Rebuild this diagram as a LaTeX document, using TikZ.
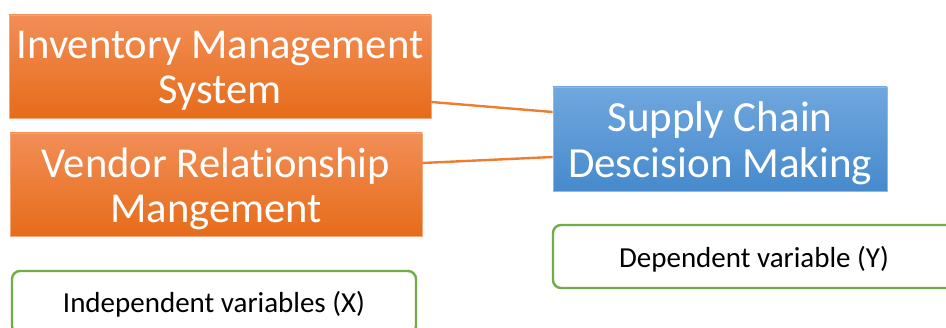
\documentclass[tikz,border=0pt]{standalone}
\usepackage{fontspec}
\setmainfont{Carlito}[Ligatures=NoCommon]
\definecolor{orangetop}{RGB}{242,142,86}
\definecolor{orangebot}{RGB}{230,108,26}
\definecolor{bluetop}{RGB}{112,167,222}
\definecolor{bluebot}{RGB}{70,138,205}
\definecolor{linkorange}{RGB}{237,125,49}
\definecolor{tagreen}{RGB}{112,173,71}
\tikzset{
  factor/.style={draw=orangetop!80!white, line width=0.8pt, top color=orangetop, bottom color=orangebot, inner sep=0pt},
  outcome/.style={draw=bluetop!80!white, line width=0.8pt, top color=bluetop, bottom color=bluebot, inner sep=0pt},
  bigtext/.style={text=white, font=\fontsize{42.6}{45}\selectfont, align=center},
  tag/.style={draw=tagreen, line width=2.4pt, rounded corners=8pt, fill=white, inner sep=0pt},
  tagtext/.style={font=\fontsize{29}{32}\selectfont},
  link/.style={linkorange, line width=2.4pt}
}
\begin{document}
\begin{tikzpicture}[x=1pt, y=1pt]
\clip (0,0) rectangle (946,327);

% the two factors
\node[factor, minimum width=422, minimum height=103] (inv) at (220,260.5) {};
\node[factor, minimum width=412, minimum height=103] (vrm) at (216,142.5) {};
\node[bigtext] (invtext) at ([yshift=-4]inv.center) {Inventory Management\\System};
\node[bigtext] (vrmtext) at ([yshift=-4]vrm.center) {Vendor Relationship\\Mangement};

% the outcome
\node[outcome, minimum width=334, minimum height=104] (scdm) at (720,188) {};
\node[bigtext, font=\fontsize{43}{46}\selectfont] (scdmtext) at ([yshift=-4]scdm.center) {Supply Chain\\Descision Making};

% variable tags
\node[tag, minimum width=402, minimum height=63] (dep) at (754,70.5) {};
\node[tag, minimum width=404, minimum height=63] (ind) at (214,24.5) {};
\node[tagtext] (deptext) at ([yshift=-3]dep.center) {Dependent variable (Y)};
\node[tagtext] (indtext) at (214,23) {Independent variables (X)};

% connectors
\draw[link] ([yshift=-35.5]inv.east) -- ([yshift=27]scdm.west);
\draw[link] ([yshift=21.5]vrm.east) -- ([yshift=-18]scdm.west);
\end{tikzpicture}
\end{document}
